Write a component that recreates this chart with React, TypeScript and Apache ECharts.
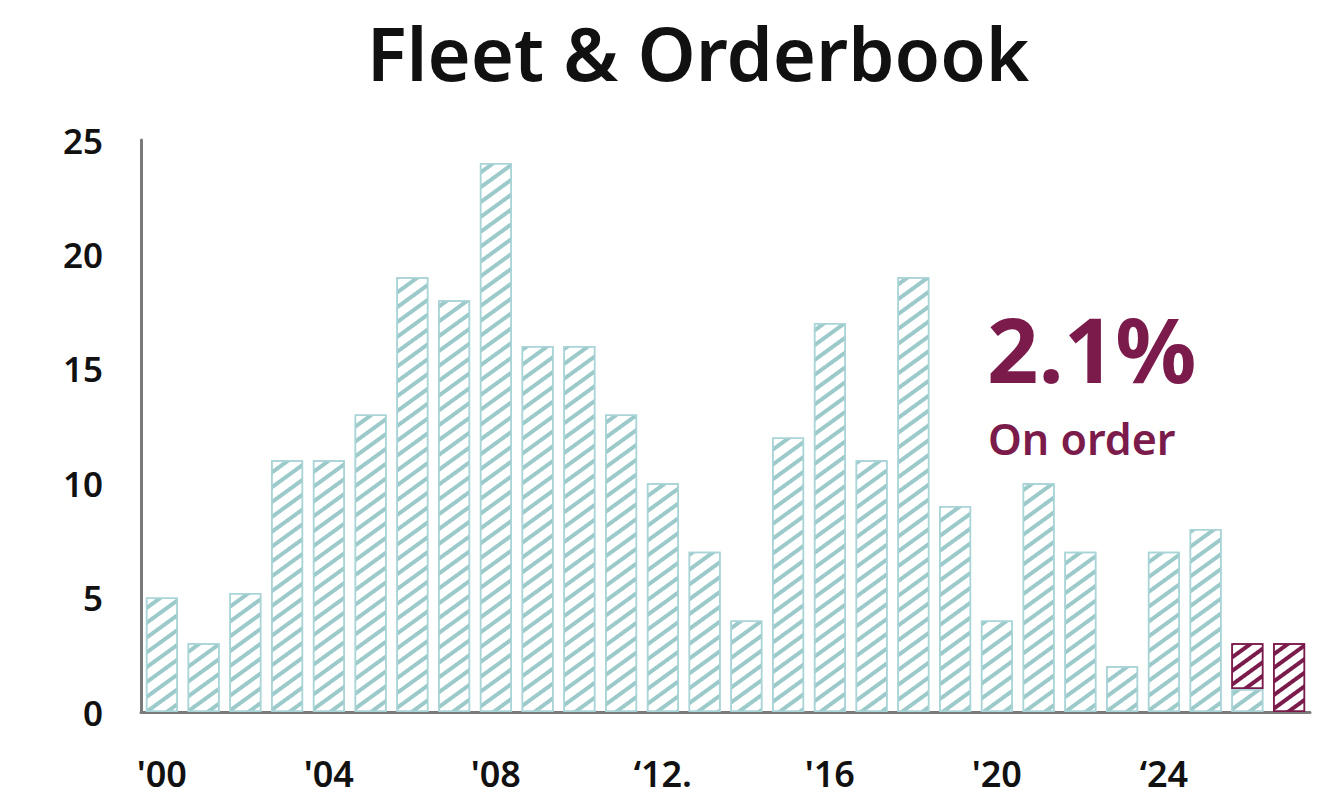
import React, { useEffect, useRef } from "react";
import * as echarts from "echarts";

const years = [
  "2000", "2001", "2002", "2003", "2004", "2005", "2006", "2007", "2008", "2009",
  "2010", "2011", "2012", "2013", "2014", "2015", "2016", "2017", "2018", "2019",
  "2020", "2021", "2022", "2023", "2024", "2025", "2026", "2027",
];
const fleet = [5, 3, 5.2, 11, 11, 13, 19, 18, 24, 16, 16, 13, 10, 7, 4, 12, 17, 11, 19, 9, 4, 10, 7, 2, 7, 8, 1, null];
const orderbook = [null, null, null, null, null, null, null, null, null, null, null, null, null, null, null, null, null, null, null, null, null, null, null, null, null, null, 2, 3];
const xTickLabels: Record<string, string> = {
  "2000": "'00",
  "2004": "'04",
  "2008": "'08",
  "2012": "\u201812.",
  "2016": "'16",
  "2020": "'20",
  "2024": "\u201824",
};
const titleText = "Fleet & Orderbook";
const bigStat = "2.1%";
const statLabel = "On order";

const TEAL = "#9ccaca";
const TEAL_BORDER = "#a9d4d8";
const PURPLE = "#7b1b4b";
const FONT = "'Noto Sans', 'Open Sans', sans-serif";

export default function App() {
  const ref = useRef<HTMLDivElement>(null);
  useEffect(() => {
    document.body.style.margin = "0";
    if (!ref.current) return;
    const chart = echarts.init(ref.current, undefined, { renderer: "svg" });
    chart.setOption({
      animation: false,
      backgroundColor: "#ffffff",
      title: {
        text: titleText,
        left: 693,
        textAlign: "center",
        top: 10,
        textStyle: { fontFamily: FONT, fontSize: 74, fontWeight: 600, color: "#111" },
      },
      grid: { left: 141, right: 22, top: 140, bottom: 96 },
      xAxis: {
        type: "category",
        data: years,
        axisLine: { lineStyle: { color: "#7a7a7a", width: 3 } },
        axisTick: { show: false },
        axisLabel: {
          interval: 3,
          margin: 43,
          fontFamily: FONT,
          fontSize: 36,
          fontWeight: 600,
          color: "#111",
          formatter: (v: string) => xTickLabels[v] ?? "",
        },
      },
      yAxis: {
        type: "value",
        min: 0,
        max: 25,
        interval: 5,
        splitLine: { show: false },
        axisLine: { show: true, lineStyle: { color: "#7a7a7a", width: 3 } },
        axisTick: { show: false },
        axisLabel: {
          margin: 38,
          fontFamily: FONT,
          fontSize: 35,
          fontWeight: 600,
          color: "#111",
        },
      },
      series: [
        {
          type: "bar",
          stack: "total",
          data: fleet,
          barWidth: 32,
          itemStyle: {
            color: "#ffffff",
            borderColor: TEAL_BORDER,
            borderWidth: 1.5,
            decal: {
              symbol: "rect",
              symbolSize: 1,
              color: TEAL,
              backgroundColor: "#ffffff",
              dashArrayX: [1, 0],
              dashArrayY: [4, 8],
              rotation: -Math.PI * 0.2,
            },
          },
        },
        {
          type: "bar",
          stack: "total",
          data: orderbook,
          barWidth: 32,
          itemStyle: {
            color: "#ffffff",
            borderColor: PURPLE,
            borderWidth: 1.5,
            decal: {
              symbol: "rect",
              symbolSize: 1,
              color: PURPLE,
              backgroundColor: "#ffffff",
              dashArrayX: [1, 0],
              dashArrayY: [4, 7],
              rotation: -Math.PI * 0.2,
            },
          },
        },
      ],
      graphic: [
        {
          type: "text",
          x: 987,
          y: 348,
          style: {
            text: bigStat,
            fontFamily: FONT,
            fontSize: 90,
            fontWeight: 700,
            lineHeight: 76,
            verticalAlign: "middle",
            align: "left",
            fill: PURPLE,
          },
        },
        {
          type: "text",
          x: 988,
          y: 438,
          style: {
            text: statLabel,
            fontFamily: FONT,
            fontSize: 43,
            fontWeight: 600,
            lineHeight: 40,
            verticalAlign: "middle",
            align: "left",
            fill: PURPLE,
          },
        },
      ],
    });
    return () => chart.dispose();
  }, []);
  return <div ref={ref} style={{ width: 1332, height: 808 }} />;
}
